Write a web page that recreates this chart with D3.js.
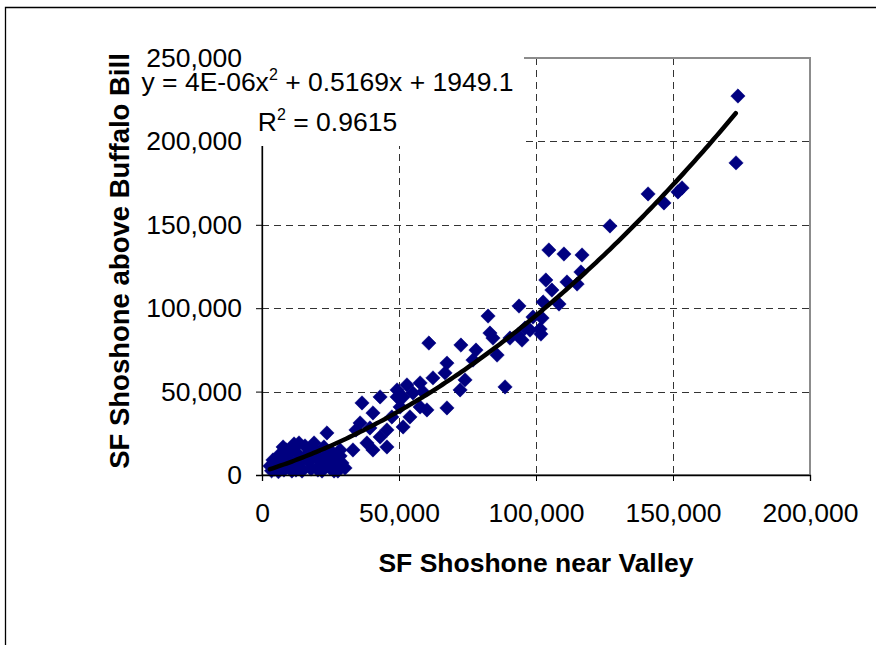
<!DOCTYPE html>
<html><head><meta charset="utf-8">
<script src="https://cdn.jsdelivr.net/npm/d3@7"></script>
<style>
html,body{margin:0;padding:0;background:#fff;}
svg{display:block;font-family:"Liberation Sans",Arial,sans-serif;}
</style></head>
<body>
<svg id="chart" width="876" height="645"></svg>
<script>
// Data: [SF Shoshone near Valley, SF Shoshone above Buffalo Bill] (thousands)
const valleyFlow = [
 2.9,4.0,5.1,6.2,6.9,8.0,8.8,9.5,10.2,10.9,11.7,12.4,13.1,13.9,14.6,15.7,16.4,17.2,17.9,19.0,19.7,20.4,21.2,21.9,22.6,23.4,24.1,24.8,25.5,26.3,27.0,27.7,28.5,29.2,30.3,23.7,7.7,13.5,18.2,5.1,12.4,20.4,15.3,10.2,26.3,17.5,21.9,3.5,6.0,9.0,4.5,
 28.5,24.8,33.2,40.5,38.3,45.6,43.1,45.6,39.4,35.8,47.4,54.0,51.5,34.3,
 36.5,43.1,40.5,49.3,50.4,49.3,51.5,52.9,55.1,57.7,60.2,58.8,57.7,62.4,66.8,67.5,67.5,72.3,74.1,77.0,60.9,72.6,78.1,85.8,88.7,
 82.5,83.2,84.3,90.5,94.9,93.8,98.9,102.2,96.0,101.5,93.4,97.8,101.8,
 104.7,110.2,116.8,116.4,115.0,111.3,103.6,105.8,108.4,102.6,
 127.0,140.9,146.7,151.8,153.3,173.0,173.7
];
const buffaloBillFlow = [
 5.4,9.0,4.2,12.0,7.2,3.0,15.0,10.2,6.0,2.4,18.6,13.8,9.0,4.8,2.4,17.4,12.0,7.8,3.6,19.2,14.4,10.2,6.0,2.4,16.8,12.0,7.8,4.2,13.8,9.6,5.4,2.4,11.4,7.2,4.2,25.2,16.8,19.2,15.6,7.8,3.0,3.0,10.2,13.8,2.4,11.4,9.0,2.5,2.0,5.0,3.5,
 15.0,13.2,15.0,15.0,19.2,16.8,22.8,27.0,28.2,31.2,34.8,34.8,28.8,27.0,
 43.2,46.8,37.2,46.8,40.8,51.0,46.8,54.0,49.2,40.8,39.0,49.8,55.2,58.2,61.2,67.1,40.2,51.0,57.0,68.9,79.1,77.9,74.9,71.9,52.8,
 95.3,85.1,82.1,82.1,80.9,101.3,94.7,94.1,88.1,87.5,83.9,86.9,84.5,
 134.9,132.5,131.9,121.7,114.5,115.7,116.9,110.9,102.5,103.7,
 149.3,168.5,163.1,169.7,172.1,187.1,227.2
];
const xTicks = [0, 50000, 100000, 150000, 200000];
const yTicks = [0, 50000, 100000, 150000, 200000, 250000];
const trendCoef = [4.2e-6, 0.5169, 1949.1]; // fitted polynomial (order 2)
const trendRange = [2900, 173500];
const xTitle = "SF Shoshone near Valley";
const yTitle = "SF Shoshone above Buffalo Bill";

const points = valleyFlow.map((v,i)=>({x:v*1000, y:buffaloBillFlow[i]*1000}));

const svg = d3.select("#chart");
svg.append("rect").attr("width",876).attr("height",645).attr("fill","#fff");
svg.append("path").attr("d","M5.5,645 L5.5,7.5 L876,7.5").attr("fill","none").attr("stroke","#000").attr("stroke-width",1.3);

const x = d3.scaleLinear().domain([0,200000]).range([262,810]);
const y = d3.scaleLinear().domain([0,250000]).range([475,58]);
const fmt = d3.format(",");
const fs = 26.5;

// gridlines
const grid = svg.append("g").attr("stroke","#333").attr("stroke-width",1).attr("stroke-dasharray","7,5");
grid.selectAll("line.v").data(xTicks.filter(t=>t>0&&t<200000)).join("line")
  .attr("x1",d=>x(d)+0.5).attr("x2",d=>x(d)+0.5).attr("y1",y(250000)).attr("y2",y(0));
grid.selectAll("line.h").data(yTicks.filter(t=>t>0&&t<250000)).join("line")
  .attr("y1",d=>Math.round(y(d))+0.5).attr("y2",d=>Math.round(y(d))+0.5).attr("x1",x(0)).attr("x2",x(200000));

// plot area border
svg.append("rect").attr("x",x(0)).attr("y",y(250000)).attr("width",x(200000)-x(0)).attr("height",y(0)-y(250000))
  .attr("fill","none").attr("stroke","#8c8c8c").attr("stroke-width",2);

// points
const diamond = "M0,-7.2L7.2,0L0,7.2L-7.2,0Z";
svg.append("g").selectAll("path").data(points).join("path")
  .attr("d",diamond).attr("transform",d=>`translate(${x(d.x)},${y(d.y)})`)
  .attr("fill","#000080").attr("stroke","#000080").attr("stroke-width",0.5);

// trendline
const trendX = d3.range(trendRange[0], trendRange[1]+1, 1000);
const line = d3.line().x(d=>x(d)).y(d=>y(trendCoef[0]*d*d+trendCoef[1]*d+trendCoef[2]));
svg.append("path").datum(trendX).attr("d",line).attr("fill","none").attr("stroke","#000").attr("stroke-width",4.5).attr("stroke-linecap","round");

// axes
const xAxis = d3.axisBottom(x).tickValues(xTicks).tickFormat(fmt).tickSize(6).tickPadding(22);
const gx = svg.append("g").attr("transform",`translate(0,${y(0)})`).call(xAxis);
gx.select(".domain").attr("stroke","#000").attr("stroke-width",1.3);
gx.selectAll(".tick line").attr("stroke","#000");
gx.selectAll("text").attr("font-size",fs).attr("font-family","Liberation Sans, Arial").attr("fill","#000");

const yAxis = d3.axisLeft(y).tickValues(yTicks).tickFormat(fmt).tickSize(6).tickPadding(14);
const gy = svg.append("g").attr("transform",`translate(${x(0)},0)`).call(yAxis);
gy.select(".domain").attr("stroke","#000").attr("stroke-width",1.3);
gy.selectAll(".tick line").attr("stroke","#000");
gy.selectAll("text").attr("font-size",fs).attr("font-family","Liberation Sans, Arial").attr("fill","#000");

// trendline label box
svg.append("rect").attr("x",250).attr("y",52).attr("width",274).attr("height",94).attr("fill","#fff");
const eq = svg.append("text").attr("x",327.5).attr("y",91).attr("text-anchor","middle").attr("font-size",fs);
eq.append("tspan").text("y = 4E-06x");
eq.append("tspan").attr("font-size",16).attr("dy",-11).text("2");
eq.append("tspan").attr("dy",11).text(" + 0.5169x + 1949.1");
const r2 = svg.append("text").attr("x",327.5).attr("y",131).attr("text-anchor","middle").attr("font-size",fs);
r2.append("tspan").text("R");
r2.append("tspan").attr("font-size",16).attr("dy",-11).text("2");
r2.append("tspan").attr("dy",11).text(" = 0.9615");

// axis titles
svg.append("text").attr("x",536).attr("y",572).attr("text-anchor","middle").attr("font-weight","bold").attr("font-size",fs).text(xTitle);
svg.append("text").attr("transform","translate(129,261) rotate(-90)").attr("text-anchor","middle").attr("font-weight","bold").attr("font-size",27.5).text(yTitle);
</script>
</body></html>
